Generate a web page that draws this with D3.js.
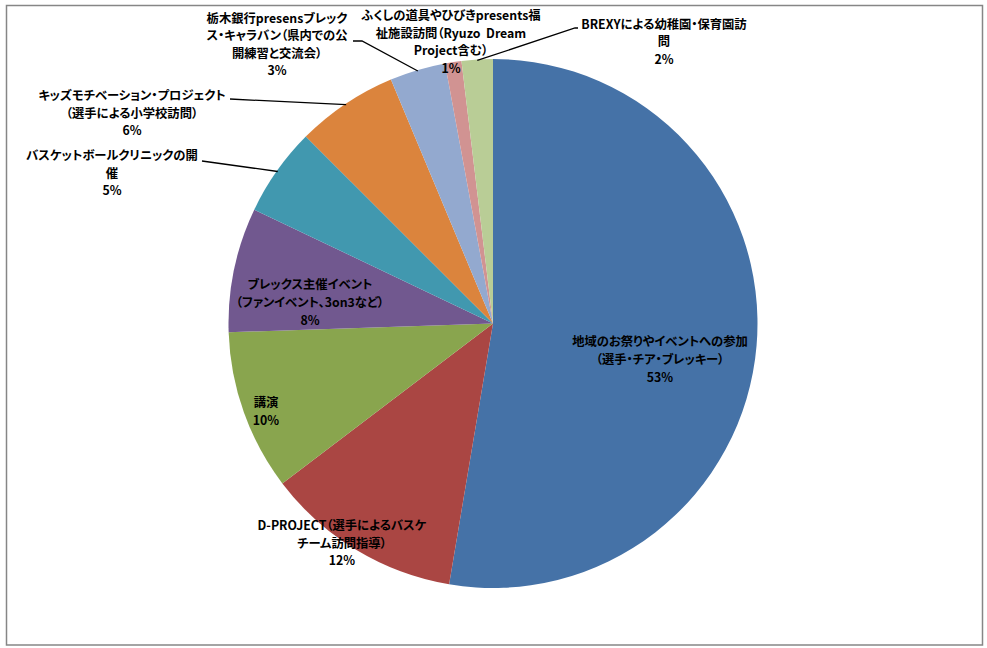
<!DOCTYPE html>
<html><head><meta charset="utf-8">
<script src="https://cdn.jsdelivr.net/npm/d3@7"></script>
<style>
html,body{margin:0;padding:0;background:#fff;}
svg text{font-family:"Noto Sans CJK JP","Noto Sans",sans-serif;font-weight:bold;font-feature-settings:"palt";fill:#000;}
</style></head>
<body>
<svg id="chart" width="987" height="648"></svg>
<script>
// ---- data ----
const categories = [
  ["地域のお祭りやイベントへの参加", "（選手・チア・ブレッキー）"],
  ["D-PROJECT（選手によるバスケ", "チーム訪問指導）"],
  ["講演"],
  ["ブレックス主催イベント", "（ファンイベント、3on3など）"],
  ["バスケットボールクリニックの開", "催"],
  ["キッズモチベーション・プロジェクト", "（選手による小学校訪問）"],
  ["栃木銀行presensブレック", "ス・キャラバン（県内での公", "開練習と交流会）"],
  ["ふくしの道具やひびきpresents福", "祉施設訪問（Ryuzo  Dream", "Project含む）"],
  ["BREXYによる幼稚園・保育園訪", "問"]
];
const values = [52.6, 12.0, 9.8, 7.6, 5.4, 6.2, 3.4, 1.0, 1.9];
const colors = ["#4572A7", "#AA4643", "#89A54E", "#71588F", "#4198AF", "#DB843D", "#93A9CF", "#D19392", "#B9CD96"];

// ---- layout ----
const cx = 493, cy = 323.5, R = 264.5;
const labelLayout = [
  {x: 660, y: 340.5, lh: 18},
  {x: 342, y: 525, lh: 17.5},
  {x: 266, y: 402, lh: 17.5},
  {x: 310, y: 283.5, lh: 18},
  {x: 112, y: 155, lh: 17.5},
  {x: 132, y: 95, lh: 17.5},
  {x: 277, y: 18, lh: 17.4},
  {x: 451, y: 15, lh: 17.6},
  {x: 664, y: 23.5, lh: 17.7}
];
const leaderStart = {4: [[202,161]], 5: [[230,99]], 6: [[353,41],[362,41]], 8: [[578,28],[575,28]]};

const svg = d3.select("#chart");
svg.append("rect").attr("x", 6.5).attr("y", 5.5).attr("width", 976).attr("height", 639.5)
  .attr("fill", "#fff").attr("stroke", "#868686").attr("stroke-width", 1.5);

const total = d3.sum(values);
const pie = d3.pie().sort(null).value(d => d)(values);
const arc = d3.arc().innerRadius(0).outerRadius(R);
const edge = d3.arc().innerRadius(R - 1).outerRadius(R - 1);

const g = svg.append("g").attr("transform", `translate(${cx},${cy})`);
g.selectAll("path.slice").data(pie).join("path").attr("class", "slice")
  .attr("d", arc).attr("fill", (d, i) => colors[i]);

// leader lines
Object.keys(leaderStart).forEach(k => {
  const i = +k;
  const c = edge.centroid(pie[i]);
  const pts = leaderStart[i].concat([[c[0] + cx, c[1] + cy]]);
  svg.append("path").attr("d", d3.line()(pts)).attr("fill", "none")
    .attr("stroke", "#000").attr("stroke-width", 1.3);
});

// labels
const fmt = d3.format(".0%");
categories.forEach((lines, i) => {
  const L = labelLayout[i];
  const all = lines.concat([fmt(values[i] / total)]);
  const t = svg.append("text").attr("text-anchor", "middle").attr("font-size", 12.3);
  all.forEach((s, j) => {
    t.append("tspan").attr("x", L.x).attr("y", L.y + j * L.lh)
      .attr("dominant-baseline", "central").attr("xml:space", "preserve").text(s);
  });
});
</script>
</body></html>
